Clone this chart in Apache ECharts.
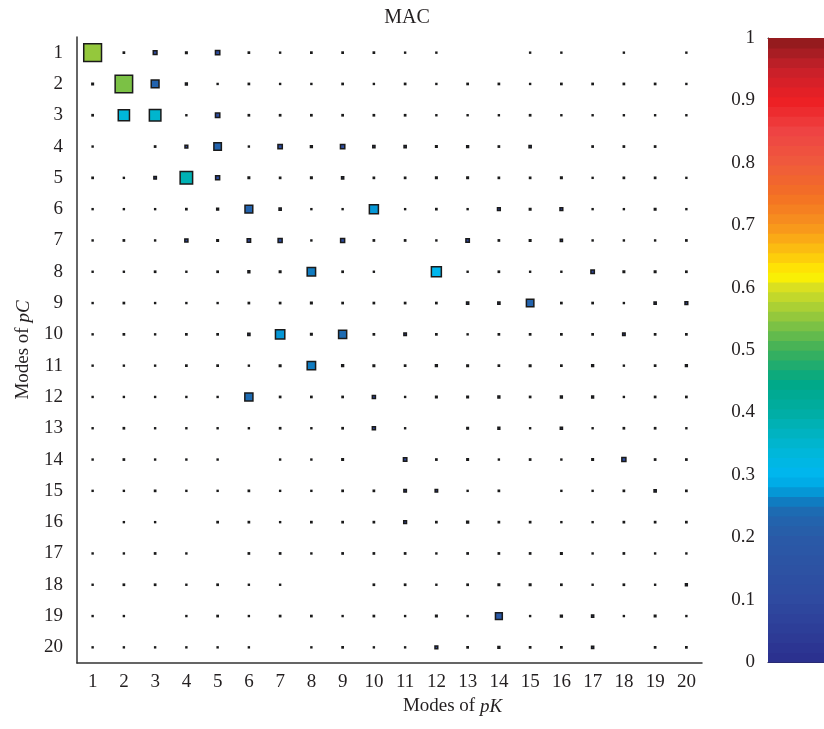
<!DOCTYPE html>
<html><head><meta charset="utf-8">
<script src="https://cdn.jsdelivr.net/npm/echarts@6/dist/echarts.min.js"></script>
<style>html,body{margin:0;padding:0;background:#fff}#c{width:824px;height:729px}</style>
</head><body><div id="c"></div>
<script>
// ---------- data ----------
const pKModes = ['1','2','3','4','5','6','7','8','9','10','11','12','13','14','15','16','17','18','19','20'];
const pCModes = ['1','2','3','4','5','6','7','8','9','10','11','12','13','14','15','16','17','18','19','20'];
// MAC values, one array per pC mode (row), columns = pK modes 1..20
const mac_pC01 = [0.55,0.02,0.10,0.03,0.12,0.02,0.01,0.02,0.02,0.02, 0.01,0.01,0,0,0.01,0.01,0,0.01,0,0.01];
const mac_pC02 = [0.03,0.54,0.23,0.04,0.01,0.02,0.01,0.01,0.02,0.01, 0.02,0.01,0.02,0.02,0.01,0.02,0.02,0.02,0.02,0.01];
const mac_pC03 = [0.02,0.34,0.35,0.01,0.12,0.02,0.02,0.02,0.02,0.02, 0.02,0.01,0.01,0.01,0.02,0.01,0.01,0.01,0.01,0.01];
const mac_pC04 = [0.01,0,0.02,0.07,0.22,0.01,0.12,0.04,0.12,0.05, 0.05,0.03,0.04,0.02,0.05,0,0.02,0.02,0.02,0];
const mac_pC05 = [0.02,0.01,0.06,0.38,0.11,0.03,0.02,0.03,0.05,0.02, 0.02,0.03,0.03,0.02,0.02,0.03,0.01,0.02,0.02,0.01];
const mac_pC06 = [0.01,0.01,0.01,0.02,0.04,0.23,0.05,0.01,0.01,0.27, 0.01,0.02,0.01,0.07,0.03,0.07,0.01,0.01,0.03,0.01];
const mac_pC07 = [0.01,0.02,0.01,0.08,0.03,0.09,0.11,0.01,0.11,0.02, 0.02,0.01,0.09,0.02,0.03,0.05,0.01,0.01,0.01,0.02];
const mac_pC08 = [0.01,0.01,0.02,0.01,0.02,0.04,0.03,0.25,0.02,0.01, 0,0.30,0.01,0.02,0.01,0.01,0.09,0.03,0.03,0.02];
const mac_pC09 = [0.01,0.02,0.01,0.01,0.01,0.02,0.02,0.03,0.02,0.02, 0.02,0.02,0.05,0.05,0.22,0.02,0.02,0.01,0.05,0.07];
const mac_pC10 = [0.01,0.02,0.01,0.02,0.02,0.05,0.28,0.03,0.24,0.02, 0.06,0.02,0.01,0.02,0.02,0.02,0.02,0.06,0.02,0.02];
const mac_pC11 = [0.01,0.01,0.01,0.02,0.02,0.01,0.03,0.25,0.04,0.03, 0.02,0.04,0.03,0.02,0.03,0.02,0.04,0.01,0.02,0.04];
const mac_pC12 = [0.01,0.01,0.01,0.01,0.01,0.24,0.02,0.02,0.02,0.08, 0.01,0.03,0.03,0.04,0.02,0.04,0.04,0.01,0.02,0.02];
const mac_pC13 = [0.01,0.02,0.01,0.01,0.01,0.01,0.02,0.01,0.02,0.08, 0.01,0,0.03,0.04,0.01,0.05,0.01,0.02,0.02,0.01];
const mac_pC14 = [0.01,0.02,0.01,0.01,0.01,0,0.01,0.01,0.03,0, 0.09,0.02,0.03,0.01,0.02,0.01,0.03,0.11,0.02,0.02];
const mac_pC15 = [0.01,0.01,0.02,0.01,0.01,0.02,0.01,0.01,0.02,0.02, 0.06,0.06,0.01,0.02,0,0.01,0.01,0.02,0.05,0.02];
const mac_pC16 = [0,0.01,0.01,0,0.02,0.02,0.01,0.02,0.02,0.02, 0.07,0.02,0.04,0.02,0.02,0.01,0.01,0.02,0.02,0.02];
const mac_pC17 = [0.01,0.01,0.02,0.01,0,0.02,0.02,0.01,0.02,0.02, 0.02,0.01,0.02,0.02,0.02,0.03,0.01,0.02,0.01,0.01];
const mac_pC18 = [0.01,0.02,0.02,0.01,0.02,0.01,0.01,0,0,0.02, 0.02,0.01,0.02,0.03,0.03,0.02,0.01,0.02,0.01,0.04];
const mac_pC19 = [0.01,0.01,0,0.01,0.02,0.01,0.02,0.02,0.01,0.02, 0.01,0.03,0.01,0.20,0.01,0.04,0.05,0.01,0.03,0.01];
const mac_pC20 = [0.01,0.01,0.01,0.01,0.01,0.01,0,0.01,0.02,0.01, 0.01,0.07,0.02,0.04,0.02,0.02,0.05,0,0.02,0.02];
const macRows = [mac_pC01,mac_pC02,mac_pC03,mac_pC04,mac_pC05,mac_pC06,mac_pC07,mac_pC08,mac_pC09,mac_pC10,
                 mac_pC11,mac_pC12,mac_pC13,mac_pC14,mac_pC15,mac_pC16,mac_pC17,mac_pC18,mac_pC19,mac_pC20];
const colorbarTicks = ['0','0.1','0.2','0.3','0.4','0.5','0.6','0.7','0.8','0.9','1'];

// ---------- colormap (64 levels) ----------
const cmapStops = [
  [0.00,'#2b2f8e'],[0.10,'#2f4aa0'],[0.20,'#2a5aa7'],[0.24,'#1f68b0'],[0.26,'#0e7fc3'],
  [0.28,'#00a3df'],[0.30,'#00b6f0'],[0.34,'#00b7d8'],[0.40,'#00aea5'],[0.45,'#00a886'],
  [0.50,'#3cb05a'],[0.55,'#8dc63f'],[0.60,'#d7df23'],[0.62,'#fff200'],[0.66,'#fcc010'],
  [0.70,'#f7941d'],[0.75,'#f36f24'],[0.80,'#ef5a3c'],[0.85,'#ee4444'],[0.90,'#ed2024'],
  [0.95,'#c8202a'],[1.00,'#8b1a1c']
];
const NLEV = 64;
function hex2rgb(h){return [parseInt(h.substr(1,2),16),parseInt(h.substr(3,2),16),parseInt(h.substr(5,2),16)];}
function cmapRaw(t){
  t=Math.max(0,Math.min(1,t));
  for(let i=1;i<cmapStops.length;i++){
    if(t<=cmapStops[i][0]){
      const a=cmapStops[i-1],b=cmapStops[i];
      const f=(t-a[0])/(b[0]-a[0]);
      const ca=hex2rgb(a[1]),cb=hex2rgb(b[1]);
      return 'rgb('+ca.map((v,k)=>Math.round(v+(cb[k]-v)*f)).join(',')+')';
    }
  }
  return cmapStops[cmapStops.length-1][1];
}
function cmap(v){
  const lev=Math.min(NLEV-1,Math.floor(v*NLEV));
  return cmapRaw((lev+0.5)/NLEV);
}

// ---------- build ----------
const scatterData=[];
macRows.forEach((row,r)=>row.forEach((v,c)=>{ if(v>0) scatterData.push([c,r,v]); }));
const levels=[]; for(let i=0;i<NLEV;i++) levels.push([0.5,(i+0.5)/NLEV,i]);

const FONT='Liberation Serif';
const TXT='#231f20';
const chart=echarts.init(document.getElementById('c'),null,{renderer:'canvas'});
const grid0={left:77,top:37,width:625,height:626};
const cellPx=grid0.width/pKModes.length;

chart.setOption({
  backgroundColor:'#fff',
  animation:false,
  title:{text:'MAC',left:402,top:3,textAlign:'center',textStyle:{fontFamily:FONT,fontWeight:'normal',fontSize:20,color:TXT}},
  grid:[grid0,{left:768,top:38,width:60,height:624}],
  xAxis:[
    {type:'category',gridIndex:0,data:pKModes,boundaryGap:true,
     axisLine:{lineStyle:{color:'#333',width:1.5}},
     axisTick:{inside:true,alignWithLabel:true,length:6,lineStyle:{color:'#333',width:1.3}},
     axisLabel:{fontFamily:FONT,fontSize:19,color:TXT,margin:10},
     splitLine:{show:false},
     name:'{a|Modes of }{b|pK}',nameLocation:'middle',nameGap:34,
     nameTextStyle:{padding:[0,0,0,126],rich:{a:{fontFamily:FONT,fontSize:19,color:TXT},b:{fontFamily:FONT,fontSize:19,fontStyle:'italic',color:TXT}}}},
    {type:'value',gridIndex:1,min:0,max:1,show:true,
     axisLine:{show:true,onZero:false,lineStyle:{color:'#231f20',width:1}},axisTick:{show:false},axisLabel:{show:false},splitLine:{show:false}},
    {type:'value',gridIndex:1,min:0,max:1,position:'top',show:true,
     axisLine:{show:true,onZero:false,lineStyle:{color:'#231f20',width:1}},axisTick:{show:false},axisLabel:{show:false},splitLine:{show:false}}
  ],
  yAxis:[
    {type:'category',gridIndex:0,data:pCModes,inverse:true,boundaryGap:true,
     axisLine:{lineStyle:{color:'#333',width:1.5}},
     axisTick:{inside:true,alignWithLabel:true,length:6,lineStyle:{color:'#333',width:1.3}},
     axisLabel:{fontFamily:FONT,fontSize:19,color:TXT,margin:14},
     splitLine:{show:false},
     name:'{a|Modes of }{b|pC}',nameLocation:'middle',nameGap:44,nameRotate:90,
     nameTextStyle:{rich:{a:{fontFamily:FONT,fontSize:19,color:TXT},b:{fontFamily:FONT,fontSize:19,fontStyle:'italic',color:TXT}}}},
    {type:'value',gridIndex:1,min:0,max:1,interval:0.1,
     axisLine:{show:true,onZero:false,lineStyle:{color:'#231f20',width:1}},
     axisTick:{show:true,inside:true,length:5,lineStyle:{color:'#231f20',width:1}},
     axisLabel:{fontFamily:FONT,fontSize:19,color:TXT,margin:13,
       formatter:(v)=>colorbarTicks[Math.round(v*10)]},
     splitLine:{show:false}}
  ],
  series:[
    {type:'custom',xAxisIndex:1,yAxisIndex:1,data:levels,z:1,silent:true,
     renderItem:(params,api)=>{
       const i=api.value(2);
       const p0=api.coord([0,i/NLEV]);
       const p1=api.coord([1,(i+1)/NLEV]);
       return {type:'rect',shape:{x:p0[0],y:p1[1],width:p1[0]-p0[0],height:p0[1]-p1[1]+0.8},
               style:{fill:cmapRaw((i+0.5)/NLEV),stroke:null}};
     }},
    {type:'scatter',xAxisIndex:0,yAxisIndex:0,data:scatterData,symbol:'rect',
     symbolSize:(val)=>val[2]*cellPx+0.6,
     itemStyle:{color:(p)=>cmap(p.value[2]),borderColor:'#1a1a1a',borderWidth:1.5,opacity:1},
     emphasis:{disabled:true}}
  ]
});
</script></body></html>
